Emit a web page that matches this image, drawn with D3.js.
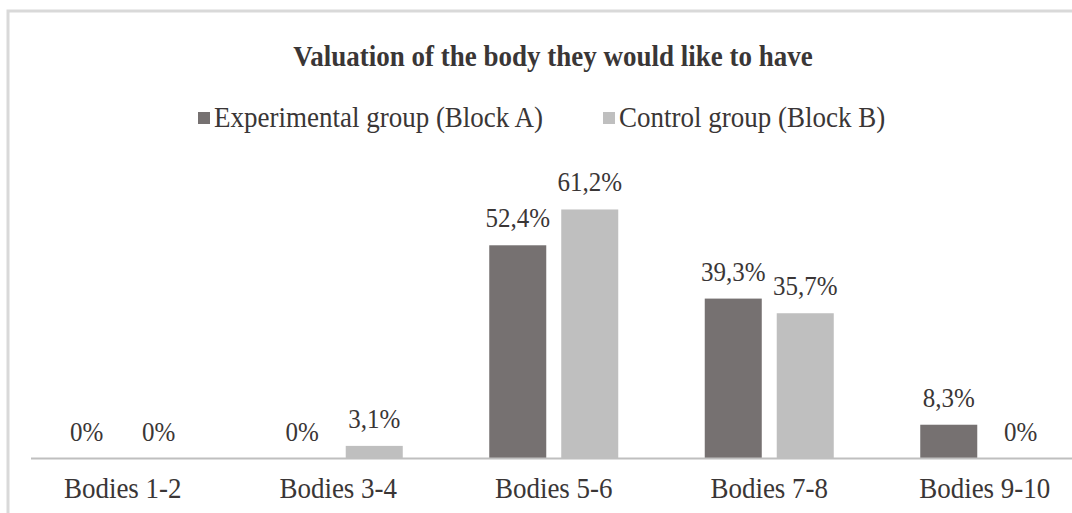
<!DOCTYPE html>
<html>
<head>
<meta charset="utf-8">
<script src="https://cdn.jsdelivr.net/npm/d3@7"></script>
<style>
  body { margin: 0; background: #fff; }
  svg { display: block; }
</style>
</head>
<body>
<svg id="canvas" width="1072" height="513"></svg>
<script>
var categories = ['Bodies 1-2', 'Bodies 3-4', 'Bodies 5-6', 'Bodies 7-8', 'Bodies 9-10'];
var seriesNames = ['Experimental group (Block A)', 'Control group (Block B)'];
var experimental = [0, 0, 52.4, 39.3, 8.3];
var control = [0, 3.1, 61.2, 35.7, 0];
var valueLabels = [['0%', '0%', '52,4%', '39,3%', '8,3%'], ['0%', '3,1%', '61,2%', '35,7%', '0%']];

var chart = {};
var canvas_width = 1072, canvas_height = 513;
var serif = '"Liberation Serif", "DejaVu Serif", "Times New Roman", Times, serif';
var stretch = 1.1; // glyphs in the original look a bit taller than wide

// text is placed with a transform so it can be stretched vertically about its baseline
function place(x, y){ return 'translate(' + x + ',' + y + ') scale(1,' + stretch + ')'; }

// ************************************************************************************** //
// Frame + title

chart.svg = d3.select('#canvas').style('font-family', serif);
chart.svg.append('path').attr('d', 'M8,' + canvas_height + ' V11 H' + canvas_width)
  .attr('fill', 'none').attr('stroke', '#d9d9d9').attr('stroke-width', 3);

chart.svg.append('text').attr('transform', place(553, 66)).attr('text-anchor', 'middle')
  .attr('font-family', serif).attr('fill', '#3a3636')
  .style('font-size', '27px').style('font-weight', 'bold').text('Valuation of the body they would like to have');

// ************************************************************************************** //
// Scales

var baseY = 458.5;
chart.x0 = d3.scaleBand().domain(categories).range([15, 1092.5]).padding(0);
chart.x1 = d3.scaleBand().domain([0, 1]).range([0, 129]).paddingInner(0.208).paddingOuter(0);
chart.y = d3.scaleLinear().domain([0, 100]).range([baseY, baseY - 406.9]);
var groupOffset = (chart.x0.bandwidth() - 129) / 2;
var colors = ['#767171', '#bfbfbf'];

var rows = categories.map((c, i) => ({ cat: c, vals: [experimental[i], control[i]] }));

// bars
var groups = chart.svg.append('g').selectAll('g').data(rows).join('g')
  .attr('transform', d => 'translate(' + (chart.x0(d.cat) + groupOffset) + ',0)');

groups.selectAll('rect').data(d => d.vals.map((v, s) => ({ v: v, s: s }))).join('rect')
  .attr('x', d => chart.x1(d.s))
  .attr('width', chart.x1.bandwidth())
  .attr('y', d => chart.y(d.v))
  .attr('height', d => baseY - chart.y(d.v))
  .attr('fill', d => colors[d.s]);

groups.each(function(d, i){
  d3.select(this).selectAll('text.val').data(d.vals.map((v, s) => ({ v: v, s: s }))).join('text')
    .attr('class', 'val')
    .attr('transform', e => place(chart.x1(e.s) + chart.x1.bandwidth() / 2, chart.y(e.v) - 18))
    .attr('text-anchor', 'middle')
    .attr('font-family', serif).attr('fill', '#3a3636')
    .style('font-size', '25px')
    .text(e => valueLabels[e.s][i]);
});

// axis
chart.svg.append('line').attr('x1', 31).attr('x2', canvas_width).attr('y1', baseY).attr('y2', baseY)
  .attr('stroke', '#bfbfbf').attr('stroke-width', 2);

chart.svg.append('g').selectAll('text').data(categories).join('text')
  .attr('transform', d => place(chart.x0(d) + chart.x0.bandwidth() / 2, 498))
  .attr('text-anchor', 'middle')
  .attr('font-family', serif).attr('fill', '#3a3636')
  .style('font-size', '27px')
  .text(d => d);

// ************************************************************************************** //
// Legend

var legendX = [198, 603];
var legend = chart.svg.append('g').selectAll('g').data(seriesNames).join('g')
  .attr('transform', (d, i) => 'translate(' + legendX[i] + ',0)');
legend.append('rect').attr('x', 0).attr('y', 112).attr('width', 12).attr('height', 12)
  .attr('fill', (d, i) => colors[i]);
legend.append('text').attr('transform', place(16, 127))
  .attr('font-family', serif).attr('fill', '#3a3636')
  .style('font-size', '27px').text(d => d);
</script>
</body>
</html>
